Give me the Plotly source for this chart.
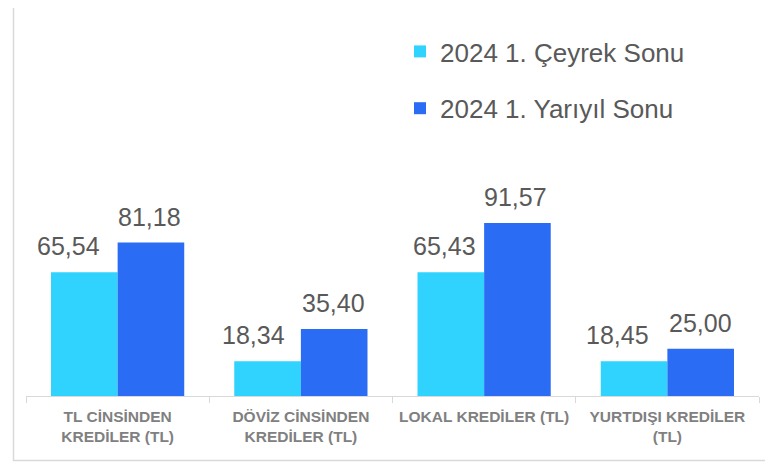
import plotly.graph_objects as go

categories = ["TL CİNSİNDEN<br>KREDİLER (TL)", "DÖVİZ CİNSİNDEN<br>KREDİLER (TL)",
              "LOKAL KREDİLER (TL)", "YURTDIŞI KREDİLER<br>(TL)"]
series_names = ["2024 1. Çeyrek Sonu", "2024 1. Yarıyıl Sonu"]
q1_values = [65.54, 18.34, 65.43, 18.45]
h1_values = [81.18, 35.40, 91.57, 25.00]
colors = ["#30D3FE", "#2B6CF4"]

# horizontal nudges (px) of the value labels, as placed in the original
label_nudge = [[-16, -14, -7, -17], [-1, 0, -2, 0]]

# page body has an 8px margin; work in reference pixel coords and shift
OFF = 8
W, H = 773 - OFF, 462 - OFF
L, R, T, B = 26 - OFF, W - (759 - OFF), 207 - OFF, H - (396 - OFF)
pw, ph = W - L - R, H - T - B


def px_x(p):
    return (p - OFF - L) / pw


def px_y(p):
    return (H - B - (p - OFF)) / ph


def fmt(v):
    return f"{v:.2f}".replace(".", ",")


fig = go.Figure()
for i, (name, vals) in enumerate(zip(series_names, [q1_values, h1_values])):
    fig.add_trace(go.Bar(
        x=categories, y=vals, name=name, marker_color=colors[i],
        marker_line_width=0, legendgroup=str(i),
    ))
    for j, (c, v) in enumerate(zip(categories, vals)):
        fig.add_annotation(
            x=c, y=v, text=fmt(v), showarrow=False, xref="x", yref="y",
            yanchor="bottom", xshift=(-33 if i == 0 else 33) + label_nudge[i][j],
            yshift=10,
            font=dict(family="Liberation Sans, Arial", size=25, color="#595959"),
        )

fig.add_shape(type="rect", xref="paper", yref="paper",
              x0=px_x(13.5), x1=px_x(770.5), y0=px_y(460.5), y1=px_y(1.5),
              line=dict(color="#D9D9D9", width=1.5), layer="below")

fig.update_layout(
    width=W, height=H,
    margin=dict(l=L, r=R, t=T, b=B),
    paper_bgcolor="white", plot_bgcolor="white",
    barmode="group", bargap=0.273, bargroupgap=0,
    showlegend=True,
    legend=dict(x=px_x(400), y=px_y(28), xanchor="left", yanchor="top",
                traceorder="grouped", tracegroupgap=20,
                font=dict(family="Liberation Sans, Arial", size=26, color="#595959"),
                bgcolor="rgba(0,0,0,0)"),
    xaxis=dict(showline=True, linecolor="#D9D9D9", linewidth=1,
               ticks="outside", tickson="boundaries", ticklen=6, tickcolor="#D9D9D9",
               ticklabelstandoff=6,
               tickfont=dict(family="Liberation Sans, Arial", size=15.5, color="#808080",
                             weight="bold"),
               showgrid=False, zeroline=False, fixedrange=True),
    yaxis=dict(range=[0, 100], visible=False, showgrid=False, zeroline=False),
)

fig.write_html("out.html")
